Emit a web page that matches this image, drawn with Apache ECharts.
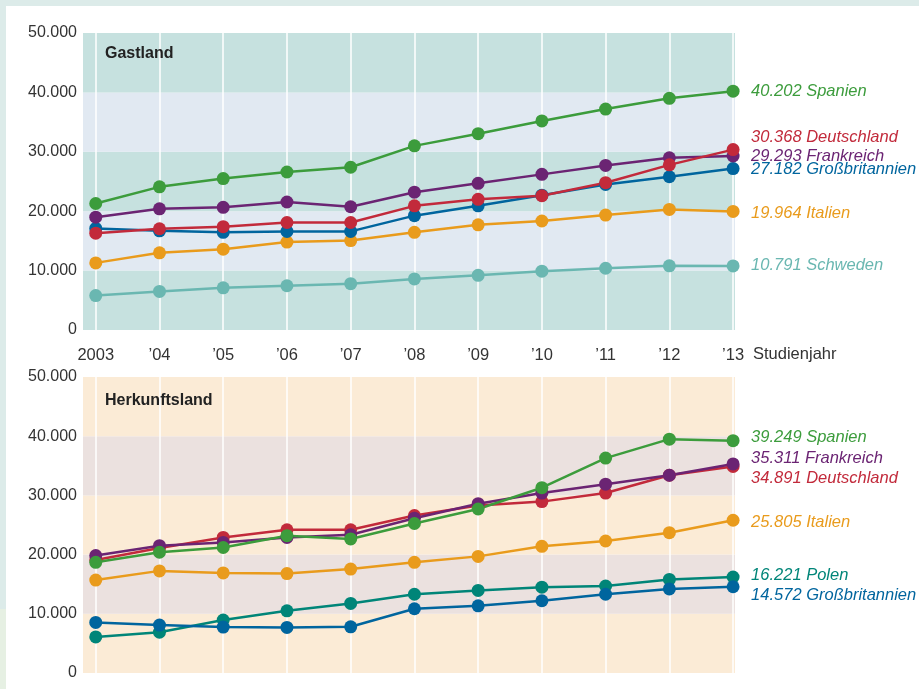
<!DOCTYPE html>
<html>
<head>
<meta charset="utf-8">
<script src="https://cdn.jsdelivr.net/npm/echarts@6/dist/echarts.min.js"></script>
<style>
html,body{margin:0;padding:0;}
body{width:919px;height:689px;overflow:hidden;
background:
 linear-gradient(#dcebe9,#dcebe9) 0 0/919px 6px no-repeat,
 linear-gradient(#dcebe9 609px,#e6f0e3 609px) 0 0/6px 689px no-repeat,
 #ffffff;}
#chart{position:absolute;left:0;top:0;width:919px;height:689px;}
</style>
</head>
<body>
<div id="chart"></div>
<script>
// ---- data ----
const years = [2003, 2004, 2005, 2006, 2007, 2008, 2009, 2010, 2011, 2012, 2013];
const xLabels = ['2003', '\u201904', '\u201905', '\u201906', '\u201907', '\u201908', '\u201909', '\u201910', '\u201911', '\u201912', '\u201913'];
const yTicks = [0, 10000, 20000, 30000, 40000, 50000];

// Gastland
const gastSpanien      = [21300, 24100, 25500, 26600, 27400, 31000, 33050, 35200, 37200, 39000, 40202];
const gastFrankreich   = [19000, 20400, 20650, 21550, 20750, 23200, 24700, 26200, 27700, 29000, 29293];
const gastDeutschland  = [16300, 17050, 17400, 18100, 18100, 20900, 22000, 22600, 24800, 27800, 30368];
const gastGB           = [17100, 16700, 16450, 16600, 16600, 19250, 20900, 22700, 24500, 25800, 27182];
const gastItalien      = [11300, 13000, 13600, 14800, 15050, 16450, 17700, 18350, 19350, 20300, 19964];
const gastSchweden     = [5800, 6500, 7100, 7450, 7800, 8600, 9200, 9900, 10400, 10800, 10791];

// Herkunftsland
const herkSpanien      = [18700, 20400, 21200, 23200, 22650, 25250, 27700, 31300, 36300, 39500, 39249];
const herkFrankreich   = [19850, 21500, 22050, 22900, 23350, 26150, 28600, 30400, 31900, 33400, 35311];
const herkDeutschland  = [19100, 21100, 22900, 24200, 24200, 26600, 28300, 28950, 30400, 33400, 34891];
const herkItalien      = [15700, 17250, 16900, 16800, 17550, 18700, 19700, 21400, 22300, 23700, 25805];
const herkPolen        = [6100, 6900, 8950, 10500, 11750, 13300, 13950, 14500, 14700, 15800, 16221];
const herkGB           = [8550, 8100, 7750, 7700, 7800, 10850, 11350, 12200, 13300, 14200, 14572];

// ---- styles ----
const C = {
  green: '#3c9c3c', purple: '#6b2473', red: '#c22a3b', blue: '#00659e',
  orange: '#e99b1c', lteal: '#6ab7b1', dteal: '#008578'
};
const FONT = '"Liberation Sans", Arial, sans-serif';

function fmt(v) {
  return String(v).replace(/\B(?=(\d{3})+(?!\d))/g, '.');
}

function bandSeries(gi, colA, colB) {
  const bands = [];
  for (let i = 0; i < yTicks.length - 1; i++) {
    bands.push([
      { yAxis: yTicks[i], itemStyle: { color: i % 2 === 0 ? colA : colB } },
      { yAxis: yTicks[i + 1] }
    ]);
  }
  return {
    type: 'line', xAxisIndex: gi, yAxisIndex: gi, data: [], z: 1, silent: true,
    markArea: { silent: true, z: 1, data: bands },
    markLine: {
      silent: true, z: 1.5, symbol: 'none', label: { show: false },
      lineStyle: { color: '#ffffff', width: 1.5, type: 'solid' },
      emphasis: { disabled: true },
      data: years.map(y => ({ xAxis: y }))
    }
  };
}

function lineSeries(gi, name, vals, color, dy) {
  return {
    type: 'line', name: name, xAxisIndex: gi, yAxisIndex: gi, z: 3,
    data: years.map((y, i) => [y, vals[i]]),
    symbol: 'circle', symbolSize: 13,
    lineStyle: { color: color, width: 2.5 },
    itemStyle: { color: color },
    emphasis: { disabled: true },
    endLabel: {
      show: true, distance: 0, offset: [18, dy],
      formatter: p => fmt(p.value[1]) + ' ' + name,
      color: color, fontStyle: 'italic', fontSize: 16.5, fontFamily: FONT
    }
  };
}

function xAxisDef(gi, showLabels) {
  return {
    type: 'value', gridIndex: gi, min: 2002.8, max: 2013.03,
    axisLine: { show: false }, axisTick: { show: false }, splitLine: { show: false },
    axisLabel: {
      show: showLabels, customValues: years, margin: 17,
      formatter: v => xLabels[years.indexOf(Math.round(v))],
      color: '#333', fontSize: 16.5, fontFamily: FONT
    }
  };
}

function yAxisDef(gi) {
  return {
    type: 'value', gridIndex: gi, min: 0, max: 50000, interval: 10000,
    axisLine: { show: false }, axisTick: { show: false }, splitLine: { show: false },
    axisLabel: { formatter: v => fmt(v), color: '#333', fontSize: 16, margin: 6, fontFamily: FONT }
  };
}

const chart = echarts.init(document.getElementById('chart'), null, { renderer: 'canvas' });
chart.setOption({
  animation: false,
  backgroundColor: 'transparent',
  textStyle: { fontFamily: FONT },
  title: [
    { text: 'Gastland', left: 105, top: 46, padding: 0,
      textStyle: { fontSize: 16, fontWeight: 'bold', color: '#222', fontFamily: FONT } },
    { text: 'Herkunftsland', left: 105, top: 393, padding: 0,
      textStyle: { fontSize: 16, fontWeight: 'bold', color: '#222', fontFamily: FONT } }
  ],
  graphic: [
    { type: 'text', left: 753, top: 346,
      style: { text: 'Studienjahr', fill: '#333', fontSize: 16.5, fontFamily: FONT } }
  ],
  grid: [
    { left: 83, right: 184, top: 33, height: 297 },
    { left: 83, right: 184, top: 377, height: 296 }
  ],
  xAxis: [xAxisDef(0, true), xAxisDef(1, false)],
  yAxis: [yAxisDef(0), yAxisDef(1)],
  series: [
    bandSeries(0, '#c6e1df', '#e1e9f2'),
    bandSeries(1, '#fbebd6', '#ebe1df'),
    lineSeries(0, 'Schweden', gastSchweden, C.lteal, 0),
    lineSeries(0, 'Italien', gastItalien, C.orange, 2),
    lineSeries(0, 'Großbritannien', gastGB, C.blue, 1),
    lineSeries(0, 'Frankreich', gastFrankreich, C.purple, 0),
    lineSeries(0, 'Deutschland', gastDeutschland, C.red, -12),
    lineSeries(0, 'Spanien', gastSpanien, C.green, 0),
    lineSeries(1, 'Polen', herkPolen, C.dteal, -2),
    lineSeries(1, 'Großbritannien', herkGB, C.blue, 9),
    lineSeries(1, 'Italien', herkItalien, C.orange, 2),
    lineSeries(1, 'Deutschland', herkDeutschland, C.red, 12),
    lineSeries(1, 'Frankreich', herkFrankreich, C.purple, -6),
    lineSeries(1, 'Spanien', herkSpanien, C.green, -3)
  ]
});
</script>
</body>
</html>
